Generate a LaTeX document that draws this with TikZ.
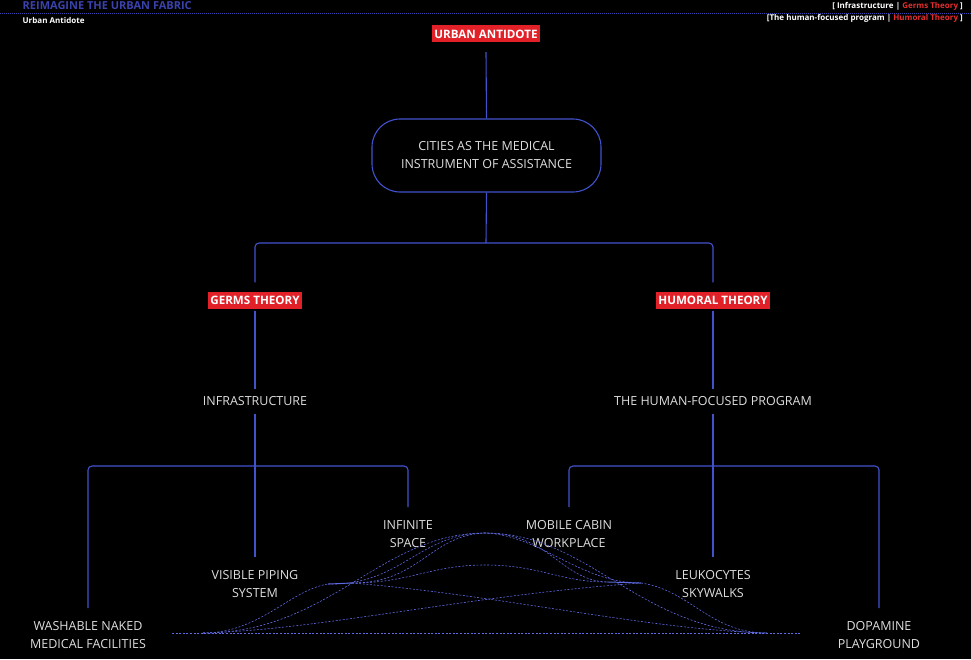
\documentclass[tikz,border=0pt]{standalone}
\usepackage{fontspec}
\setmainfont{Open Sans}
\usetikzlibrary{calc}
\definecolor{lnblue}{RGB}{66,82,205}
\definecolor{redbox}{RGB}{226,32,40}
\definecolor{hdred}{RGB}{230,45,45}
\definecolor{titleblue}{RGB}{58,66,172}
\definecolor{lblgray}{RGB}{222,222,222}
\definecolor{webblue}{RGB}{95,105,225}
\begin{document}
\begin{tikzpicture}[x=1pt,y=-1pt,
  redlabel/.style={fill=redbox,text=white,font=\bfseries\fontsize{11.6}{13}\selectfont,
    inner xsep=2pt,inner ysep=4pt,text height=9pt,text depth=0pt},
  lbl/.style={text=lblgray,font=\fontsize{12.5}{18}\selectfont,align=center,inner sep=0pt},
  link/.style={draw=lnblue,line width=1.1pt,rounded corners=4pt},
  web/.style={draw=webblue,line width=0.6pt,dash pattern=on 2pt off 1.6pt},
  hdr/.style={font=\bfseries\fontsize{8}{10}\selectfont,inner sep=0pt},
]
\fill[black] (0,0) rectangle (971,659);
\useasboundingbox (0,0) rectangle (971,659);

% header
\node[hdr,anchor=base west,text=titleblue,font=\bfseries\fontsize{11}{12}\selectfont] (title) at (22.5,9) {REIMAGINE THE URBAN FABRIC};
\node[hdr,anchor=base west,text=white] (sub) at (22.5,23) {Urban Antidote};
\node[hdr,anchor=base east,text=white] (tr1) at (963,8.5) {[ Infrastructure | \textcolor{hdred}{Germs Theory} ]};
\node[hdr,anchor=base east,text=white] (tr2) at (963,20) {[The human-focused program | \textcolor{hdred}{Humoral Theory} ]};
\coordinate (hl) at (0,13.5);
\coordinate (hr) at (971,13.5);
\draw[titleblue,line width=0.8pt,dash pattern=on 0.8pt off 1.2pt] (hl) -- (hr);

% top of tree
\node[redlabel] (ua) at (486,33.5) {URBAN ANTIDOTE};
\node[draw=lnblue,line width=1.1pt,rounded corners=28pt,minimum width=229pt,minimum height=73pt,
  text=lblgray,font=\fontsize{12.5}{18}\selectfont,align=center] (cities) at (486.5,155.5)
  {CITIES AS THE MEDICAL\\INSTRUMENT OF ASSISTANCE};
\draw[link] ([yshift=-10pt]ua.south) -- (cities.north);

\node[redlabel] (germs) at (255,300) {GERMS THEORY};
\node[redlabel] (humoral) at (713,300) {HUMORAL THEORY};
\coordinate (b1) at (486,243);
\draw[link] (cities.south) -- (b1);
\draw[link] ([yshift=9pt]germs.north) |- (b1) -| ([yshift=9pt]humoral.north);

\node[lbl,anchor=north] (infra) at (255,396) {INFRASTRUCTURE};
\node[lbl,anchor=north] (human) at (713,396) {THE HUMAN-FOCUSED PROGRAM};
\draw[link] ([yshift=-2pt]germs.south) -- ([yshift=7pt]infra.north);
\draw[link] ([yshift=-2pt]humoral.south) -- ([yshift=7pt]human.north);

% leaves
\node[lbl,anchor=north] (wash) at (88,621) {WASHABLE NAKED\\MEDICAL FACILITIES};
\node[lbl,anchor=north] (pipe) at (255,570) {VISIBLE PIPING\\SYSTEM};
\node[lbl,anchor=north] (infinite) at (408,520) {INFINITE\\SPACE};
\node[lbl,anchor=north] (mobile) at (569,520) {MOBILE CABIN\\WORKPLACE};
\node[lbl,anchor=north] (leuko) at (713,570) {LEUKOCYTES\\SKYWALKS};
\node[lbl,anchor=north] (dopa) at (879,621) {DOPAMINE\\PLAYGROUND};

\coordinate (b2) at (255,466);
\coordinate (b3) at (713,466);
\draw[link] ([yshift=-8pt]infra.south) -- (b2);
\draw[link] ([yshift=13pt]wash.north) |- (b2) -| ([yshift=13pt]infinite.north);
\draw[link] (b2) -- ([yshift=13pt]pipe.north);
\draw[link] ([yshift=-8pt]human.south) -- (b3);
\draw[link] ([yshift=13pt]mobile.north) |- (b3) -| ([yshift=13pt]dopa.north);
\draw[link] (b3) -- ([yshift=13pt]leuko.north);

% dotted web
\coordinate (w0) at (172,633);
\coordinate (w9) at (800,633);
\coordinate (L0) at (203,633);
\coordinate (R0) at (767,633);
\coordinate (A1) at (328,584);
\coordinate (A2) at (352,583);
\coordinate (B1) at (607,582);
\coordinate (B2) at (641,583);
\coordinate (P) at (485,533);
\coordinate (Q) at (485,565);
\draw[web] (w0) -- (w9);
\draw[webblue,line width=0.9pt] (A1) -- (A2);
\draw[webblue,line width=0.9pt] (B1) -- (B2);
\draw[web] (L0) .. controls (330,633) and (380,533) .. (P) .. controls (590,533) and (640,633) .. (R0);
\draw[web] (A1) .. controls (400,586) and (420,533) .. (P) .. controls (550,533) and (560,580) .. (B1);
\draw[web] (A2) .. controls (420,583) and (430,535) .. (P) .. controls (540,535) and (580,583) .. (B2);
\draw[web] (A2) .. controls (410,583) and (430,565) .. (Q) .. controls (540,565) and (560,582) .. (B1);
\draw[web] (A2) .. controls (500,595) and (650,630) .. (R0);
\draw[web] (L0) .. controls (320,630) and (470,595) .. (B2);
\draw[web] (L0) .. controls (260,633) and (290,590) .. (A1);
\draw[web] (B2) .. controls (690,590) and (710,633) .. (R0);
\end{tikzpicture}
\end{document}
